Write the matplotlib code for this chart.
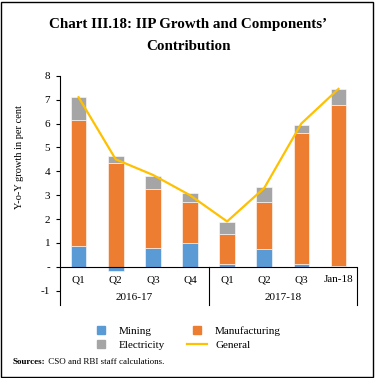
import numpy as np
import matplotlib
matplotlib.use("Agg")
import matplotlib.pyplot as plt
from matplotlib.lines import Line2D
from matplotlib.patches import Rectangle

plt.rcParams["font.family"] = ["Liberation Serif", "DejaVu Serif"]
plt.rcParams["font.size"] = 8

# data
quarters = ["Q1", "Q2", "Q3", "Q4", "Q1", "Q2", "Q3", "Jan-18"]
years = ["2016-17", "2017-18"]
mining = [0.88, -0.17, 0.80, 1.00, 0.11, 0.74, 0.10, 0.02]
manufacturing = [5.27, 4.34, 2.47, 1.73, 1.27, 1.99, 5.52, 6.74]
electricity = [0.95, 0.30, 0.53, 0.35, 0.51, 0.61, 0.31, 0.68]
general = [7.1, 4.5, 3.85, 3.0, 1.9, 3.3, 6.0, 7.45]

c_min = "#5B9BD5"
c_man = "#ED7D31"
c_ele = "#A5A5A5"
c_gen = "#FFC000"

fig = plt.figure(figsize=(3.76, 3.78), dpi=100)
ax = fig.add_axes([0.1596, 0.193, 0.79, 0.6066])

x = np.arange(len(quarters))
mining = np.array(mining)
manufacturing = np.array(manufacturing)
electricity = np.array(electricity)
b_man = np.clip(mining, 0, None)
b_ele = b_man + manufacturing

w = 0.42
ax.bar(x, mining, w, color=c_min, edgecolor="white", linewidth=0.4)
ax.bar(x, manufacturing, w, bottom=b_man, color=c_man, edgecolor="white", linewidth=0.4)
ax.bar(x, electricity, w, bottom=b_ele, color=c_ele, edgecolor="white", linewidth=0.4)
ax.plot(x, general, color=c_gen, lw=1.6, zorder=5)

ax.set_xlim(-0.5, len(quarters) - 0.5)
ax.set_ylim(-1.6, 8)
ax.set_yticks(range(-1, 9))
ax.set_yticklabels(["-1", "-"] + [str(i) for i in range(1, 9)])
ax.tick_params(axis="y", length=3, width=0.8, pad=4)
ax.set_xticks([])
for s in ["top", "right", "bottom"]:
    ax.spines[s].set_visible(False)
ax.spines["left"].set_linewidth(0.8)

# multi-level category axis
ax.axhline(0, color="black", lw=0.8)
for sx in [3.5, 7.5]:
    ax.plot([sx, sx], [0, -1.6], color="black", lw=0.8, clip_on=False)
for i, q in enumerate(quarters):
    ax.text(i, -0.55, q, ha="center", va="center")
ax.text(1.5, -1.28, years[0], ha="center", va="center")
ax.text(5.5, -1.28, years[1], ha="center", va="center")

fig.text(20 / 376, 1 - 157 / 378, "Y-o-Y growth in per cent", rotation=90,
         ha="center", va="center", fontsize=7.5)

fig.text(0.501, 1 - 28 / 378, "Chart III.18: IIP Growth and Components\u2019",
         ha="center", va="baseline", fontsize=10.8, fontweight="bold")
fig.text(0.501, 1 - 50 / 378, "Contribution",
         ha="center", va="baseline", fontsize=10.8, fontweight="bold")

handles = [
    Line2D([], [], marker="s", ls="none", color=c_min, markersize=5.5),
    Line2D([], [], marker="s", ls="none", color=c_ele, markersize=5.5),
    Line2D([], [], marker="s", ls="none", color=c_man, markersize=5.5),
    Line2D([], [], color=c_gen, lw=1.6),
]
labels = ["Mining", "Electricity", "Manufacturing", "General"]
fig.legend(handles, labels, ncol=2, loc="center", bbox_to_anchor=(0.495, 1 - 338 / 378),
           frameon=False, handlelength=1.8, handletextpad=0.7, columnspacing=2.0,
           labelspacing=0.35, fontsize=8)

t1 = fig.text(13 / 376, 1 - 364 / 378, "Sources:", fontsize=6.5, fontweight="bold",
              ha="left", va="baseline")
ax.annotate(" CSO and RBI staff calculations.", xy=(1, 0), xycoords=t1,
            va="bottom", ha="left", fontsize=6.5, annotation_clip=False)

fig.patches.append(Rectangle((0.003, 0.003), 0.989, 0.992, transform=fig.transFigure,
                             fill=False, lw=1, edgecolor="black"))

fig.savefig("out.png", dpi=100)
